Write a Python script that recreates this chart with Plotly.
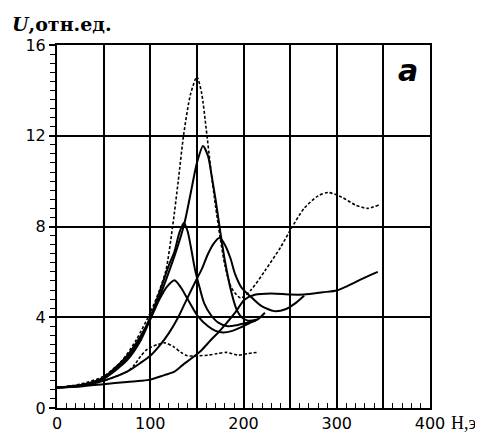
import plotly.graph_objects as go

# Curve data (H, Oe ; U, rel. units)
A_x = [0, 25, 50, 70, 85, 100, 110, 117, 124, 130, 136, 143, 150, 155, 160, 165, 170, 175, 180, 187, 197, 208, 223, 240, 251, 265, 280, 291, 305, 320, 333, 345]
A_y = [0.9, 1.05, 1.4, 2.1, 3.0, 4.2, 5.2, 6.1, 8.0, 10.0, 12.1, 13.8, 14.6, 13.9, 12.3, 10.5, 8.9, 7.5, 6.3, 5.3, 4.85, 5.2, 6.05, 7.1, 7.9, 8.8, 9.35, 9.5, 9.3, 8.95, 8.8, 8.95]

B_x = [0, 25, 50, 75, 90, 100, 110, 120, 130, 137, 144, 150, 156.6, 162, 166, 170, 175, 180, 187, 193, 198, 205, 215]
B_y = [0.9, 1.0, 1.35, 2.3, 3.2, 3.95, 4.9, 6.0, 7.2, 8.2, 9.6, 10.8, 11.55, 11.1, 10.2, 9.2, 7.8, 6.5, 5.1, 4.3, 4.0, 3.85, 3.9]

C_x = [0, 25, 50, 75, 90, 101, 112, 120, 126, 131, 136, 140, 144, 148, 153, 158, 165, 173, 183, 193, 203, 213]
C_y = [0.9, 1.0, 1.3, 2.2, 3.1, 4.1, 5.35, 6.3, 6.9, 7.7, 8.17, 7.8, 7.0, 6.1, 5.3, 4.6, 4.1, 3.76, 3.6, 3.65, 3.75, 3.85]

D_x = [0, 25, 50, 75, 90, 100, 110, 118, 126, 133, 140.5, 151, 162, 170, 178, 188, 197, 207, 215, 223]
D_y = [0.9, 1.0, 1.3, 2.1, 3.0, 3.9, 4.8, 5.35, 5.63, 5.3, 4.77, 4.05, 3.6, 3.4, 3.33, 3.4, 3.55, 3.75, 3.9, 4.2]

E_x = [0, 25, 50, 75, 90, 100, 110, 120, 130, 137, 144, 150, 155, 162, 168, 174.5, 180, 186, 191, 198, 208, 219, 233, 245, 255, 265]
E_y = [0.9, 0.97, 1.2, 1.6, 2.0, 2.3, 2.75, 3.3, 4.0, 4.6, 5.2, 5.7, 6.1, 6.8, 7.25, 7.5, 7.2, 6.6, 5.9, 5.3, 4.9, 4.5, 4.27, 4.35, 4.6, 4.95]

F_x = [0, 25, 50, 75, 90, 100, 115, 126, 135, 144, 155, 165, 173, 182, 191, 201, 212, 230, 250, 265, 285, 300, 310, 320, 333, 344]
F_y = [0.9, 0.95, 1.05, 1.15, 1.2, 1.25, 1.45, 1.6, 1.9, 2.18, 2.55, 3.0, 3.33, 3.75, 4.2, 4.77, 4.99, 5.05, 5.0, 5.0, 5.1, 5.18, 5.35, 5.55, 5.8, 6.0]

G_x = [0, 25, 50, 75, 83, 90, 97, 108, 116, 125, 133, 140, 150, 162, 172, 182, 194, 205, 214]
G_y = [0.9, 0.97, 1.2, 1.6, 1.9, 2.3, 2.6, 2.8, 2.87, 2.7, 2.45, 2.3, 2.3, 2.33, 2.4, 2.45, 2.33, 2.4, 2.45]

X_RANGE = [0, 400]
Y_RANGE = [0, 16]

fig = go.Figure()

curves = [
    (A_x, A_y, "3px,2px", 1.6),
    (B_x, B_y, "solid", 2),
    (C_x, C_y, "solid", 2),
    (D_x, D_y, "solid", 2),
    (E_x, E_y, "solid", 2),
    (F_x, F_y, "solid", 2),
    (G_x, G_y, "3px,2px", 1.6),
]
for xs, ys, dash, w in curves:
    fig.add_trace(go.Scatter(
        x=xs, y=ys, mode="lines",
        line=dict(color="black", width=w, dash=dash, shape="spline", smoothing=0.7),
        showlegend=False, hoverinfo="skip",
    ))

tick_font = dict(family="DejaVu Sans", size=16, color="black")
TICK_COLOR = "black"

fig.update_layout(
    xaxis=dict(
        range=X_RANGE, tickmode="linear", tick0=0, dtick=50,
        ticks="inside", ticklen=6, tickwidth=1.6, tickcolor=TICK_COLOR,
        minor=dict(tick0=0, dtick=10, ticks="inside", ticklen=5, tickwidth=1.4, tickcolor=TICK_COLOR, showgrid=False),
        showgrid=True, gridcolor="black", gridwidth=1.5,
        showline=True, linecolor="black", linewidth=2, mirror=True, zeroline=False,
        tickfont=tick_font,
        labelalias={"50": " ", "150": " ", "250": " ", "350": " "},
    ),
    yaxis=dict(
        range=Y_RANGE, tickmode="linear", tick0=0, dtick=4,
        ticks="outside", ticklen=6, tickwidth=1.6, tickcolor=TICK_COLOR,
        minor=dict(tick0=0, dtick=0.4, ticks="outside", ticklen=5, tickwidth=1.4, tickcolor=TICK_COLOR, showgrid=False),
        showgrid=True, gridcolor="black", gridwidth=1.5,
        showline=True, linecolor="black", linewidth=2, mirror=True, zeroline=False,
        tickfont=tick_font,
    ),
    width=483, height=437,
    margin=dict(l=49, r=61, t=37, b=30),
    plot_bgcolor="white", paper_bgcolor="white",
)

fig.add_annotation(
    xref="paper", yref="paper", x=-0.125, y=1.057, xanchor="left", yanchor="middle",
    text="<b><i>U</i>,отн.ед.</b>", showarrow=False,
    font=dict(family="DejaVu Serif", size=19, color="black"),
)
fig.add_annotation(
    xref="paper", yref="paper", x=1.05, y=-0.04, xanchor="left", yanchor="middle",
    text="Н,э", showarrow=False,
    font=dict(family="Liberation Serif", size=18, color="black"),
)
fig.add_annotation(
    xref="paper", yref="paper", x=0.941, y=0.93, xanchor="center", yanchor="middle",
    text="<b><i>а</i></b>", showarrow=False,
    font=dict(family="DejaVu Sans", size=30, color="black"),
)

fig.write_html("out.html")
